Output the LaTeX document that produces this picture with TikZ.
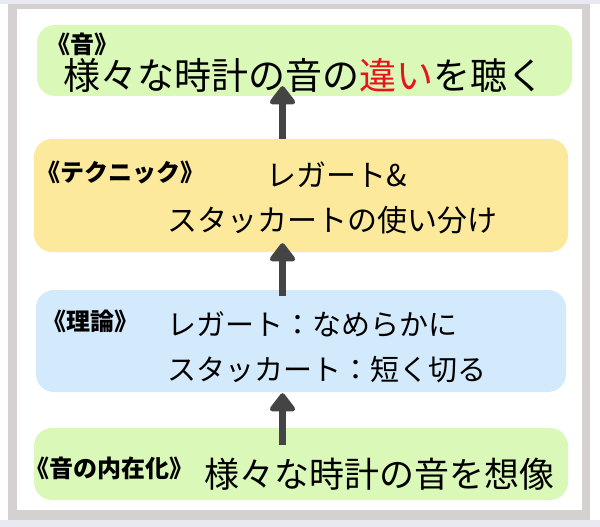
\documentclass[tikz,border=0pt]{standalone}
\usepackage{fontspec}
\usepackage{xcolor}
\usepackage{tikz}
\usetikzlibrary{calc}
\usetikzlibrary{arrows.meta}
\newfontfamily\jpfont{Noto Sans CJK JP}
\definecolor{stripback}{HTML}{E9E9F1}
\definecolor{framegray}{HTML}{D6D1D1}
\definecolor{leafgreen}{HTML}{DAF8B7}
\definecolor{sandyellow}{HTML}{FDE99C}
\definecolor{skyblue}{HTML}{D3EAFC}
\definecolor{arrowgray}{HTML}{444444}
\definecolor{notered}{HTML}{E8141C}
\tikzstyle{stagebox}=[shape=rectangle, draw=none, rounded corners=18pt, inner sep=0pt]
\tikzstyle{tagtext}=[shape=rectangle, inner sep=0pt, anchor=west, text=black, font=\jpfont\bfseries\fontsize{24}{28}\selectfont]
\tikzstyle{bodytext}=[shape=rectangle, inner sep=0pt, anchor=west, text=black]

\begin{document}
\begin{tikzpicture}[x=1pt, y=-1pt]
\useasboundingbox (0,0) rectangle (600,527);
\fill[stripback] (0,0) rectangle (600,527);
\fill[white] (0,4) rectangle (600,520);
\fill[framegray] (8,4) rectangle (590,520);
\fill[white] (17,9) rectangle (582,510);

\node [stagebox, fill=leafgreen, minimum width=535pt, minimum height=71pt] (sound) at (304.5,60.5) {};
\node [stagebox, fill=sandyellow, minimum width=534pt, minimum height=113pt] (tech) at (301,195.5) {};
\node [stagebox, fill=skyblue, minimum width=530pt, minimum height=102pt] (theory) at (301,341) {};
\node [stagebox, fill=leafgreen, minimum width=534pt, minimum height=72pt] (inner) at (301,464) {};

\draw[-{Triangle[length=20pt, width=29pt, round]}, line width=7pt, color=arrowgray] ([xshift=-18.5pt]tech.north) -- ([xshift=-22pt, yshift=10pt]sound.south);
\draw[-{Triangle[length=20pt, width=29pt, round]}, line width=7pt, color=arrowgray] ([xshift=-18.5pt, yshift=-6pt]theory.north) -- ([xshift=-18.5pt, yshift=9pt]tech.south);
\draw[-{Triangle[length=20pt, width=29pt, round]}, line width=7pt, color=arrowgray] ([xshift=-18.5pt, yshift=-17pt]inner.north) -- ([xshift=-18.5pt, yshift=-1pt]theory.south);

\node [tagtext] (tag0) at (46,44) {《音》};
\node [bodytext, font=\jpfont\fontsize{37}{44}\selectfont] (line0) at (63,75) {様々な時計の音の\textcolor{notered}{違い}を聴く};
\node [tagtext] (tag1) at (36,172) {《テクニック》};
\node [bodytext, font=\jpfont\fontsize{30}{36}\selectfont] (line1) at (266,175) {レガート\&};
\node [bodytext, font=\jpfont\fontsize{30}{36}\selectfont] (line2) at (167,220) {スタッカートの使い分け};
\node [tagtext] (tag2) at (42,321) {《理論》};
\node [bodytext, font=\jpfont\fontsize{29}{35}\selectfont] (line3) at (167,325) {レガート：なめらかに};
\node [bodytext, font=\jpfont\fontsize{29}{35}\selectfont] (line4) at (167,370) {スタッカート：短く切る};
\node [tagtext] (tag3) at (25,468) {《音の内在化》};
\node [bodytext, font=\jpfont\fontsize{35}{42}\selectfont] (line5) at (204,474) {様々な時計の音を想像};
\end{tikzpicture}
\end{document}
